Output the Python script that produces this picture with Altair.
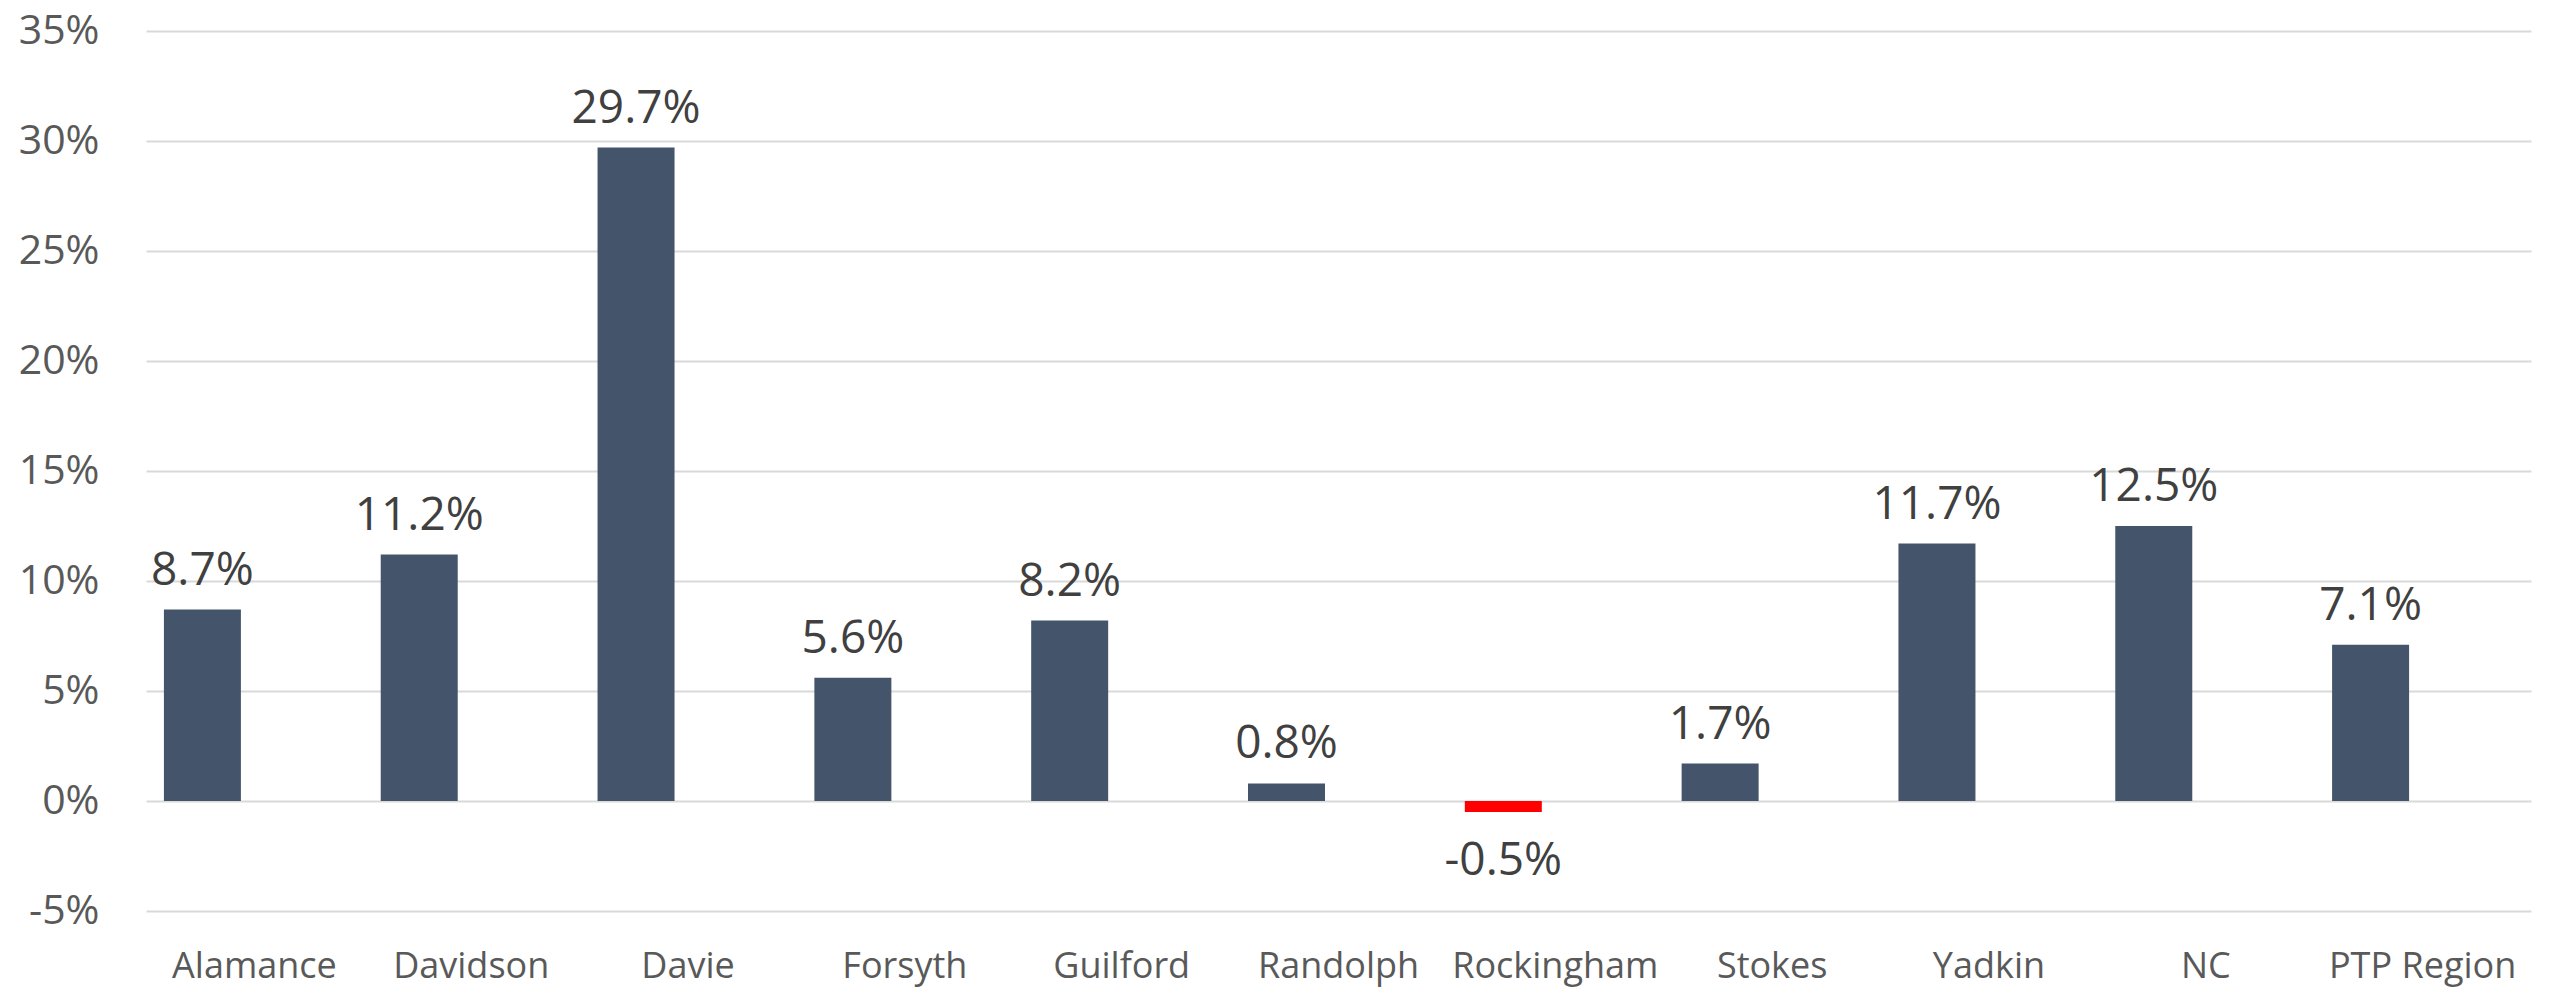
import altair as alt
import pandas as pd

categories = ["Alamance", "Davidson", "Davie", "Forsyth", "Guilford", "Randolph",
              "Rockingham", "Stokes", "Yadkin", "NC", "PTP Region"]
values = [0.087, 0.112, 0.297, 0.056, 0.082, 0.008, -0.005, 0.017, 0.117, 0.125, 0.071]
y_ticks = [-0.05, 0, 0.05, 0.10, 0.15, 0.20, 0.25, 0.30, 0.35]

df = pd.DataFrame({"county": categories, "value": values})

FONT = "Open Sans"
BAR = "#44546A"
NEG = "#FF0000"

x_enc = alt.X("county:N", sort=categories, title=None,
              scale=alt.Scale(paddingInner=0, paddingOuter=0),
              axis=alt.Axis(labelAngle=0, labelFont=FONT, labelFontSize=36,
                            labelColor="#595959", labelPadding=38, ticks=False,
                            domain=False, labelOverlap=False, labelLimit=0))
y_enc = alt.Y("value:Q", title=None,
              scale=alt.Scale(domain=[-0.05, 0.35], nice=False, zero=False),
              axis=alt.Axis(values=y_ticks, format=".0%", labelFont=FONT,
                            labelExpr="replace(datum.label, '\u2212', '-')",
                            labelFontSize=41, labelColor="#595959", labelPadding=47,
                            ticks=False, domain=False, gridColor="#D9D9D9",
                            gridWidth=2, minExtent=127, maxExtent=127))

base = alt.Chart(df).transform_calculate(
    label="replace(format(datum.value, '.1%'), '\u2212', '-')"
)

bars = base.mark_bar(width=77, xOffset=-52).encode(
    x=x_enc,
    y=y_enc,
    color=alt.condition(alt.datum.value < 0, alt.value(NEG), alt.value(BAR)),
)

pos_labels = base.transform_filter(alt.datum.value >= 0).mark_text(
    xOffset=-52, dy=-25, baseline="alphabetic", align="center",
    font=FONT, fontSize=46, color="#404040"
).encode(x=alt.X("county:N", sort=categories), y="value:Q",
         text="label:N")

neg_labels = base.transform_filter(alt.datum.value < 0).mark_text(
    xOffset=-52, dy=63, baseline="alphabetic", align="center",
    font=FONT, fontSize=46, color="#404040"
).encode(x=alt.X("county:N", sort=categories), y="value:Q",
         text="label:N")

chart = alt.layer(bars, pos_labels, neg_labels).properties(
    width=2385, height=880,
    padding={"left": 10, "top": 2, "right": 5, "bottom": 5},
    background="white",
).configure_view(stroke=None)

chart.save("out.html", embed_options={"renderer": "svg", "actions": False})
